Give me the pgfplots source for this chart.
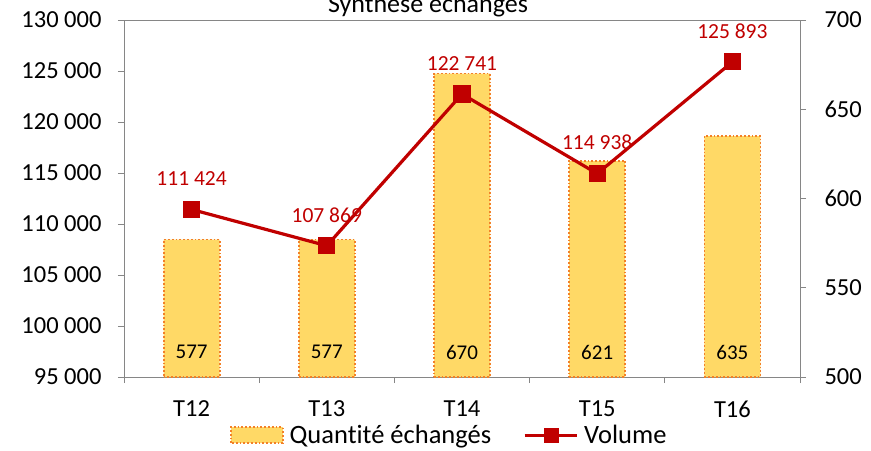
\documentclass[border=0pt]{standalone}
\usepackage{pgfplots}
\pgfplotsset{compat=1.18}
\usepackage{fontspec}
\setmainfont{Carlito}[Ligatures={NoCommon}]
\definecolor{barfill}{RGB}{255,217,102}
\definecolor{barline}{RGB}{243,128,40}
\definecolor{volred}{RGB}{192,0,0}
\definecolor{axgray}{RGB}{134,134,134}
\begin{document}
\begin{tikzpicture}
\pgfplotsset{
  common/.style={
    width=676pt, height=357pt, scale only axis,
    xmin=-0.5, xmax=4.5,
    axis line style={axgray, line width=1pt},
    tick style={axgray, line width=1pt},
    tick align=outside,
    major tick length=6pt,
    minor tick length=6pt,
    scaled y ticks=false,
    /pgf/number format/assume math mode=true,
    tick label style={font=\fontsize{24.5}{28}\selectfont, black},
  }
}
\begin{axis}[common,
  name=bars,
  axis y line*=right,
  axis x line*=box,
  ymin=500, ymax=700,
  ytick={500,550,600,650,700},
  xtick={0,1,2,3,4},
  xticklabels={T12,T13,T14,T15,T16},
  xtick pos=bottom,
  major x tick style={draw=none},
  minor xtick={-0.5,0.5,1.5,2.5,3.5,4.5},
  xticklabel style={yshift=-14pt},
  yticklabel style={xshift=15pt},
]
\addplot[ybar, bar width=56pt, fill=barfill, draw=barline, dotted, line width=1.8pt]
  coordinates {(0,577) (1,577) (2,670) (3,621) (4,635)};
\addplot[draw=none, mark=none, nodes near coords, point meta=explicit symbolic,
  nodes near coords style={anchor=center, font=\fontsize{21}{24}\selectfont, black}]
  coordinates {(0,514) [577] (1,514) [577] (2,514) [670] (3,514) [621] (4,514) [635]};
\end{axis}
\begin{axis}[common,
  name=vol,
  axis y line*=left,
  axis x line=none,
  ymin=95000, ymax=130000,
  ytick={95000,100000,105000,110000,115000,120000,125000,130000},
  yticklabels={95 000,100 000,105 000,110 000,115 000,120 000,125 000,130 000},
  yticklabel style={xshift=-13pt},
  legend style={at={(0.481,-0.163)}, anchor=center, draw=none, fill=none,
    legend columns=2, font=\fontsize{26.5}{30}\selectfont,
    /tikz/every odd column/.append style={column sep=4pt},
    /tikz/every even column/.append style={column sep=30pt}},
]
\addlegendimage{legend image code/.code={\draw[fill=barfill, draw=barline, dotted, line width=1.8pt] (0pt,-8pt) rectangle (52pt,8pt);}}
\addlegendentry{Quantité échangés}
\addlegendimage{legend image code/.code={\draw[volred, line width=3pt] (0pt,0pt) -- (52pt,0pt); \fill[volred] (19pt,-7pt) rectangle (33pt,7pt);}}
\addlegendentry{Volume}
\addplot[forget plot, volred, line width=3.2pt, mark=square*, mark size=7pt, mark options={solid},
  nodes near coords, point meta=explicit symbolic,
  nodes near coords style={anchor=center, yshift=31pt, font=\fontsize{21.5}{24}\selectfont, volred}]
  coordinates {(0,111424) [111 424] (1,107869) [107 869] (2,122741) [122 741] (3,114938) [114 938] (4,125893) [125 893]};
\end{axis}
\node[anchor=base, font=\fontsize{26}{30}\selectfont] at ([xshift=-34pt, yshift=7.5pt]bars.north) {Synthèse échanges};
\pgfresetboundingbox
\useasboundingbox ([xshift=-124pt,yshift=-73pt]bars.south west) rectangle ([xshift=71pt,yshift=20pt]bars.north east);
\end{tikzpicture}
\end{document}
